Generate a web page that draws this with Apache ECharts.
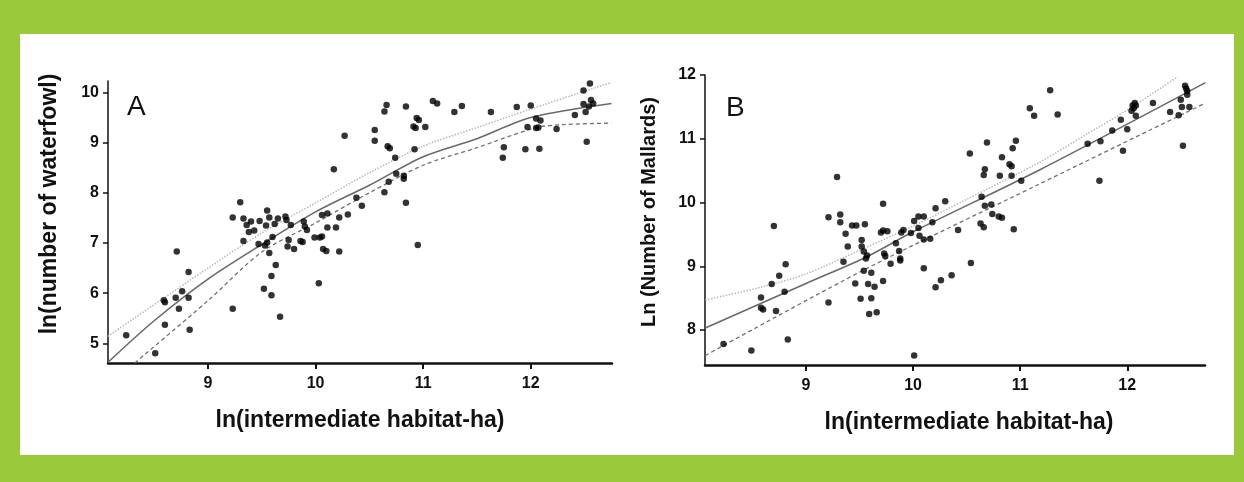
<!DOCTYPE html>
<html>
<head>
<meta charset="utf-8">
<script src="https://cdn.jsdelivr.net/npm/echarts@6/dist/echarts.min.js"></script>
<style>
  html, body { margin: 0; padding: 0; background: #9aca3c; }
  #panel { position: absolute; left: 20px; top: 34px; width: 1214px; height: 421px; background: #fff; }
  #chart { position: absolute; left: 0; top: 0; width: 1244px; height: 482px; }
</style>
</head>
<body>
<div id="panel"></div>
<div id="chart"></div>
<script>
// panel A: ln(intermediate habitat-ha) vs ln(number of waterfowl)
const waterfowlPts = [
  [8.24,5.16],[8.51,4.80],[8.71,6.83],[8.82,6.42],[8.59,5.86],[8.60,5.82],[8.70,5.91],[8.76,6.04],[8.82,5.91],[8.73,5.69],[8.60,5.37],[8.83,5.27],
  [9.23,5.69],[9.23,7.51],[9.30,7.81],[9.33,7.49],[9.36,7.36],[9.40,7.43],[9.38,7.22],[9.43,7.25],[9.33,7.04],[9.48,7.44],[9.54,7.35],[9.55,7.65],
  [9.57,7.51],[9.62,7.38],[9.65,7.49],[9.47,6.98],[9.53,6.95],[9.55,7.01],[9.60,7.12],[9.57,6.80],[9.63,6.56],[9.59,6.34],[9.52,6.09],[9.59,5.96],[9.67,5.53],
  [9.72,7.53],[9.73,7.46],[9.77,7.36],[9.75,7.06],[9.74,6.93],[9.80,6.88],[9.89,7.43],[9.90,7.33],[9.92,7.26],[9.86,7.04],[9.88,7.02],[9.99,7.11],
  [10.04,7.11],[10.06,7.13],[10.03,6.20],[10.06,7.56],[10.11,7.59],[10.11,7.31],[10.07,6.88],[10.10,6.84],[10.19,7.31],[10.22,7.51],[10.22,6.83],
  [10.17,8.47],[10.27,9.14],[10.30,7.57],[10.38,7.90],[10.43,7.74],[10.55,9.25],[10.55,9.04],[10.66,9.75],[10.64,9.62],[10.67,8.93],[10.69,8.89],
  [10.74,8.70],[10.75,8.38],[10.68,8.22],[10.64,8.01],[10.82,8.34],[10.82,8.28],[10.84,7.80],[10.84,9.72],[10.92,8.87],[10.91,9.32],[10.93,9.29],
  [10.94,9.49],[10.96,9.45],[11.02,9.31],[10.95,6.96],[11.09,9.83],[11.13,9.78],
  [11.29,9.61],[11.36,9.73],[11.63,9.61],[11.87,9.71],[12.00,9.74],[11.75,8.91],[11.74,8.70],[11.95,8.87],[12.08,8.88],[11.97,9.31],[12.05,9.48],
  [12.09,9.44],[12.05,9.29],[12.07,9.30],[12.24,9.27],[12.41,9.55],[12.49,10.04],[12.55,10.18],[12.49,9.77],[12.52,9.02],[12.51,9.61],[12.54,9.72],
  [12.56,9.85],[12.58,9.78]
];
const waterfowlFit = [[8.07,4.62],[8.5,5.45],[9,6.28],[9.5,6.97],[10,7.62],[10.5,8.15],[11,8.72],[11.5,9.08],[12,9.5],[12.75,9.78]];
const waterfowlUpper = [[8.07,5.14],[9,6.5],[9.5,7.2],[10,7.8],[10.5,8.4],[11,8.93],[11.5,9.3],[12,9.67],[12.75,10.2]];
const waterfowlLower = [[8.32,4.61],[9,5.85],[9.5,6.82],[10,7.4],[10.5,8.0],[11,8.55],[11.5,8.9],[12.05,9.3],[12.3,9.36],[12.75,9.39]];

// panel B: ln(intermediate habitat-ha) vs Ln(Number of Mallards)
const mallardPts = [
  [8.23,7.78],[8.49,7.68],[8.83,7.85],[8.70,9.63],[8.58,8.51],[8.58,8.35],[8.60,8.32],[8.72,8.30],[8.68,8.72],[8.75,8.85],[8.81,9.03],[8.80,8.60],
  [9.21,8.43],[9.29,10.40],[9.21,9.77],[9.32,9.81],[9.32,9.69],[9.37,9.51],[9.43,9.64],[9.47,9.64],[9.55,9.66],[9.39,9.31],[9.35,9.07],[9.52,9.41],
  [9.52,9.31],[9.54,9.23],[9.56,9.12],[9.54,8.93],[9.46,8.73],[9.51,8.49],[9.59,8.25],
  [9.57,9.17],[9.61,8.90],[9.58,8.72],[9.64,8.68],[9.61,8.50],[9.66,8.28],[9.72,8.77],[9.72,9.98],[9.70,9.53],[9.72,9.56],[9.76,9.55],[9.73,9.20],
  [9.74,9.16],[9.79,9.04],[9.84,9.36],[9.87,9.24],[9.88,9.12],[9.88,9.09],[9.89,9.53],[9.91,9.57],[9.98,9.52],[10.01,9.71],[10.05,9.78],[10.10,9.78],
  [10.05,9.60],[10.06,9.48],[10.10,9.42],[10.16,9.43],[10.18,9.69],[10.21,9.91],[10.30,10.02],[10.10,8.97],[10.21,8.67],[10.26,8.78],[10.36,8.86],
  [10.42,9.57],[10.01,7.60],[10.54,9.05],[10.53,10.77],[10.63,9.67],[10.66,9.61],[10.64,10.09],[10.67,9.95],[10.73,9.97],[10.74,9.82],[10.80,9.78],
  [10.83,9.76],[10.94,9.58],[10.66,10.43],[10.67,10.52],[10.69,10.94],[10.81,10.42],[10.83,10.71],[10.90,10.60],[10.92,10.57],[10.92,10.42],
  [10.93,10.85],[10.96,10.97],[11.01,10.34],[11.09,11.48],[11.13,11.36],
  [11.28,11.76],[11.35,11.38],[11.74,10.34],[11.63,10.92],[11.75,10.96],[11.86,11.13],[11.96,10.81],[11.94,11.30],[12.00,11.15],[12.04,11.44],
  [12.05,11.52],[12.07,11.56],[12.08,11.52],[12.06,11.48],[12.08,11.36],[12.24,11.56],[12.40,11.42],[12.48,11.37],[12.50,11.61],[12.51,11.50],
  [12.52,10.89],[12.54,11.83],[12.55,11.79],[12.56,11.75],[12.56,11.69],[12.58,11.50]
];
const mallardFit = [[8.06,8.03],[9,8.73],[9.57,9.15],[10,9.54],[11.18,10.51],[12.73,11.88]];
const mallardUpper = [[8.06,8.47],[8.6,8.68],[9,8.88],[9.5,9.25],[10,9.63],[10.5,10.05],[11.18,10.63],[11.6,11.05],[12,11.45],[12.47,11.97]];
const mallardLower = [[8.06,7.6],[9.55,8.95],[11.18,10.29],[12.73,11.56]];

const xTicks = [9, 10, 11, 12];
const yTicksA = [5, 6, 7, 8, 9, 10];
const yTicksB = [8, 9, 10, 11, 12];

const FONT = '"Liberation Sans", Arial, sans-serif';

// padL shifts the (centered) name along the axis
const xAxisStyle = (idx, min, max, padL) => ({
  type: 'value', gridIndex: idx, min: min, max: max,
  name: 'ln(intermediate habitat-ha)', nameLocation: 'middle', nameGap: 46,
  nameTextStyle: { fontFamily: FONT, fontWeight: 'bold', fontSize: 23, color: '#111', padding: [0, 0, 0, padL] },
  axisLine: { lineStyle: { color: '#111', width: 2.5 } },
  axisTick: { customValues: xTicks, length: 6, lineStyle: { color: '#111', width: 2 } },
  axisLabel: { customValues: xTicks, margin: 13, fontFamily: FONT, fontWeight: 'bold', fontSize: 16, color: '#111' },
  splitLine: { show: false }
});

const yAxisStyle = (idx, min, max, ticks, name, size, gap, padL) => ({
  type: 'value', gridIndex: idx, min: min, max: max,
  name: name, nameLocation: 'middle', nameGap: gap,
  nameTextStyle: { fontFamily: FONT, fontWeight: 'bold', fontSize: size, color: '#111', padding: [0, 0, 0, padL] },
  axisLine: { show: true, lineStyle: { color: '#111', width: 1.5 } },
  axisTick: { customValues: ticks, length: 5, lineStyle: { color: '#111', width: 1.5 } },
  axisLabel: { customValues: ticks, margin: 9, fontFamily: FONT, fontWeight: 'bold', fontSize: 16, color: '#111' },
  splitLine: { show: false }
});

const dots = (idx, data) => ({
  type: 'scatter', xAxisIndex: idx, yAxisIndex: idx, data: data,
  symbolSize: 6.5, itemStyle: { color: '#000' }, z: 5
});
const curve = (idx, data, color, type, width) => ({
  type: 'line', xAxisIndex: idx, yAxisIndex: idx, data: data,
  showSymbol: false, symbol: 'none', smooth: 0.3,
  lineStyle: { color: color, type: type, width: width }, z: 3
});

const chart = echarts.init(document.getElementById('chart'));
chart.setOption({
  backgroundColor: 'transparent',
  animation: false,
  grid: [
    { left: 108, top: 81, width: 504, height: 282 },
    { left: 705, top: 75, width: 500, height: 290 }
  ],
  xAxis: [xAxisStyle(0, 8.071, 12.755, 0), xAxisStyle(1, 8.057, 12.726, 28)],
  yAxis: [
    yAxisStyle(0, 4.608, 10.229, yTicksA, 'ln(number of waterfowl)', 23, 47, 36),
    yAxisStyle(1, 7.451, 12, yTicksB, 'Ln (Number of Mallards)', 20, 46, 16)
  ],
  graphic: [
    { type: 'text', left: 127, top: 93, style: { text: 'A', font: '28px ' + FONT, fill: '#111' } },
    { type: 'text', left: 726, top: 94, style: { text: 'B', font: '28px ' + FONT, fill: '#111' } }
  ],
  series: [
    curve(0, waterfowlUpper, '#b8b8b8', 'dotted', 1.5),
    curve(0, waterfowlLower, '#707070', [4, 3], 1.3),
    curve(0, waterfowlFit, '#6a6a6a', 'solid', 1.6),
    dots(0, waterfowlPts),
    curve(1, mallardUpper, '#b8b8b8', 'dotted', 1.5),
    curve(1, mallardLower, '#707070', [4, 3], 1.3),
    curve(1, mallardFit, '#6a6a6a', 'solid', 1.6),
    dots(1, mallardPts)
  ]
});
</script>
</body>
</html>
